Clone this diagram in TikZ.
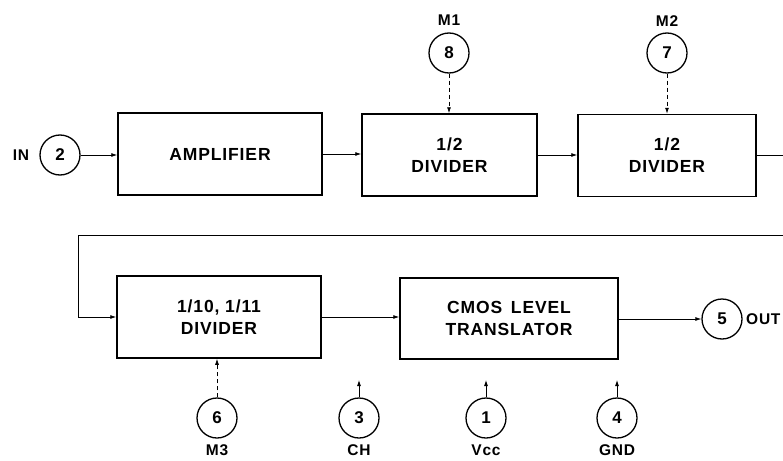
\documentclass[tikz,border=0pt]{standalone}
\usepackage{fontspec}
\setmainfont{Liberation Sans}[LetterSpace=5]
\usetikzlibrary{arrows.meta}
\begin{document}
\begin{tikzpicture}[x=1pt,y=-1pt,
  blk/.style={draw,line width=1.5pt,minimum height=82pt,align=center,font=\bfseries\fontsize{17.5}{22}\selectfont,inner sep=0pt},
  pin/.style={draw,circle,line width=1.3pt,minimum size=40pt,inner sep=0pt,font=\bfseries\fontsize{17}{18}\selectfont},
  lbl/.style={font=\bfseries\fontsize{15.5}{16}\selectfont,inner sep=0pt},
  conn/.style={line width=0.8pt,-{Latex[length=6pt,width=4pt]}},
  dconn/.style={conn,dashed,dash pattern=on 4pt off 3pt}]
\useasboundingbox (0,0) rectangle (783,460);
% blocks
\node[blk,minimum width=204pt] (amp) at (220,154) {AMPLIFIER};
\node[blk,minimum width=175pt] (d1) at (449.5,155) {1/2\\DIVIDER};
\node[blk,minimum width=178pt] (d2) at (667,155.5) {1/2\\DIVIDER};
\node[blk,minimum width=204pt] (d10) at (219,317) {1/10, 1/11\\DIVIDER};
\node[blk,minimum width=218pt,minimum height=81pt] (cmos) at (509,318.5) {CMOS\hspace{0.5em}LEVEL\\TRANSLATOR};
% pins
\node[pin] (p2) at (60,155) {2};
\node[pin] (p8) at (449,53) {8};
\node[pin] (p7) at (667,53) {7};
\node[pin] (p5) at (722,319) {5};
\node[pin] (p6) at (217,418) {6};
\node[pin] (p3) at (359,418) {3};
\node[pin] (p1) at (486,418) {1};
\node[pin] (p4) at (617,418) {4};
% labels
\node[lbl] (lin) at (21,155) {IN};
\node[lbl,anchor=west] (lout) at (746,319) {OUT};
\node[lbl] (lm1) at (449,20) {M1};
\node[lbl] (lm2) at (667,21) {M2};
\node[lbl,anchor=base] (lm3) at (217,455) {M3};
\node[lbl,anchor=base] (lch) at (359,455) {CH};
\node[lbl,anchor=base] (lvcc) at (486,455) {Vcc};
\node[lbl,anchor=base] (lgnd) at (617,455) {GND};
% coordinates
\coordinate (outR) at (783,155.5);
\coordinate (fbR) at (783,235);
\coordinate (fbL) at (78,235);
\coordinate (a3) at (359,380);
\coordinate (a1) at (486,380);
\coordinate (a4) at (617,380);
% connectors
\draw[conn] (p2) -- (amp.west |- p2);
\draw[conn] (amp.east) -- (d1.west |- amp.east);
\draw[conn] (d1.east) -- (d2.west |- d1.east);
\draw[line width=0.8pt] (d2.east) -- (outR);
\draw[conn] (fbR) -- (fbL) |- (d10.west);
\draw[conn] (d10.east) -- (cmos.west |- d10.east);
\draw[conn] (cmos.east |- p5) -- (p5);
\draw[dconn] (p8) -- (d1.north -| p8);
\draw[dconn] (p7) -- (d2.north -| p7);
\draw[dconn] (p6) -- (d10.south -| p6);
\draw[conn] (p3) -- (a3);
\draw[conn] (p1) -- (a1);
\draw[conn] (p4) -- (a4);
\end{tikzpicture}
\end{document}
